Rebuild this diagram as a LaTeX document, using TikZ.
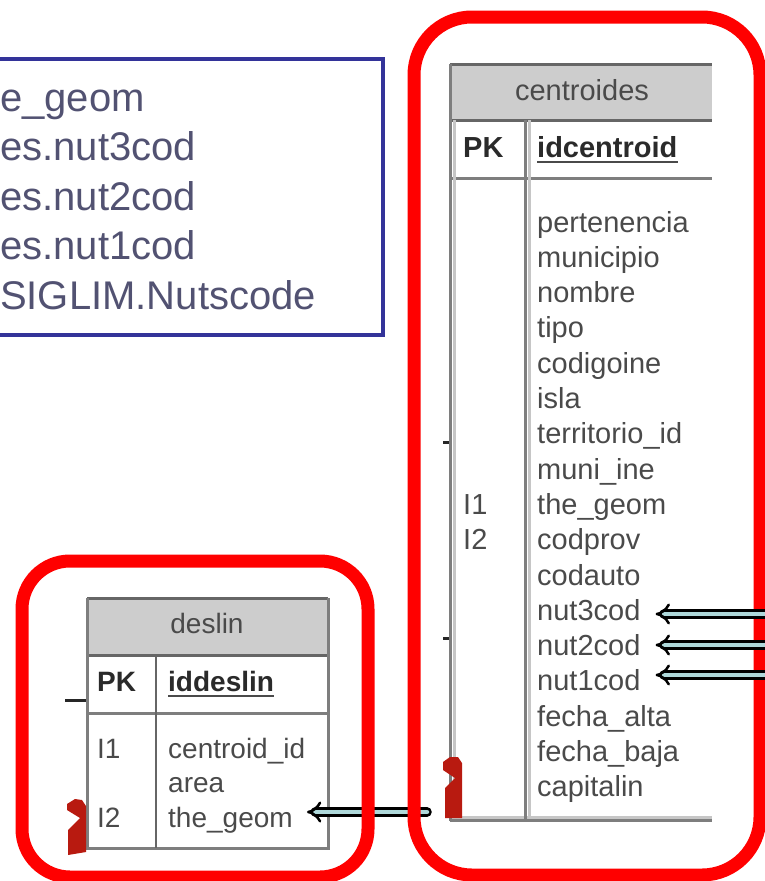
\documentclass[tikz,border=0pt]{standalone}
\usepackage{fontspec}
\setmainfont{Liberation Sans}
\usetikzlibrary{arrows.meta}
\definecolor{boxred}{HTML}{FF0000}
\definecolor{bluebox}{HTML}{333399}
\definecolor{bluetext}{HTML}{525272}
\definecolor{tabtext}{HTML}{4A4A4A}
\definecolor{pktext}{HTML}{2A2A2A}
\definecolor{tabline}{HTML}{7E7E7E}
\definecolor{tabdark}{HTML}{666666}
\definecolor{tablight}{HTML}{C6C6C6}
\definecolor{headfill}{HTML}{CDCDCD}
\definecolor{arrowfill}{HTML}{AED8DA}
\definecolor{crowred}{HTML}{B81A10}
\begin{document}
\begin{tikzpicture}[x=1pt,y=-1pt,
  redframe/.style={draw=boxred, line width=13pt, rounded corners=58pt},
  tline/.style={draw=tabline, line width=3pt},
  tdark/.style={draw=tabdark, line width=3pt},
  tlight/.style={draw=tablight, line width=3pt},
  fld/.style={anchor=base west, inner sep=0pt, text=tabtext, font=\fontsize{29}{30}\selectfont},
  dfld/.style={fld, font=\fontsize{28}{29}\selectfont},
  pkt/.style={anchor=base west, inner sep=0pt, text=pktext, font=\fontsize{29}{30}\selectfont\bfseries},
  dpkt/.style={pkt, font=\fontsize{28}{29}\selectfont\bfseries},
  headt/.style={anchor=base, inner sep=0pt, text=tabtext, font=\fontsize{29}{30}\selectfont},
  note/.style={anchor=base west, inner sep=0pt, text=bluetext, font=\fontsize{40}{48}\selectfont},
  fkarrow/.style={draw=black, line width=2.5pt, double=arrowfill, double distance=4.5pt, line cap=round, -{Implies[length=9pt,width=17pt]}},
  crow/.style={fill=crowred, draw=none},
  tickmark/.style={draw=black!85, line width=3pt},
  underl/.style={draw=tabtext, line width=2pt},
]
\useasboundingbox (0,0) rectangle (765,881);
\clip (0,0) rectangle (765,881);

% blue note box
\draw[bluebox, line width=4.5pt] (-20,59) rectangle (383,335);
\node[note] (b1) at (0,111) {e\_geom};
\node[note] (b2) at (0,160.5) {es.nut3cod};
\node[note] (b3) at (0,210) {es.nut2cod};
\node[note] (b4) at (0,259.5) {es.nut1cod};
\node[note] (b5) at (0,309) {SIGLIM.Nutscode};

% ---- centroides table ----
\fill[headfill] (450,64) rectangle (712,120);
\draw[tdark] (450,64) -- (712,64);
\draw[tdark] (450,120) -- (712,120);
\draw[tline] (450,178) -- (712,178);
\draw[tlight] (450,817) -- (712,817);
\draw[tline] (450,820) -- (712,820);
\draw[tlight] (454.5,120) -- (454.5,818);
\draw[tline] (450,64) -- (450,821);
\draw[tlight] (529,120) -- (529,818);
\draw[tline] (525.5,120) -- (525.5,821);

\node[headt] (chead) at (582,100) {centroides};
\node[pkt] (cpk) at (463,157) {PK};
\node[pkt] (cid) at (537,157) {idcentroid};
\draw[underl] ([yshift=-5pt]cid.base west) -- ([yshift=-5pt]cid.base east);

\foreach \t [count=\k from 0] in {pertenencia, municipio, nombre, tipo, codigoine, isla, territorio\_id, muni\_ine, the\_geom, codprov, codauto, nut3cod, nut2cod, nut1cod, fecha\_alta, fecha\_baja, capitalin}
  \node[fld] (c\k) at (537,{232+35.3*\k}) {\t};
\node[fld] (ci1) at (463,514.4) {I1};
\node[fld] (ci2) at (463,549.7) {I2};

% relationship remnants
\draw[tickmark] (443,442) -- (449,442);
\draw[tickmark] (443,638.5) -- (449,638.5);
\fill[crow] (443,762) -- (450,757) -- (458,757) -- (462,763) -- (462,818) -- (445,818) -- (445,788) -- (455,778) -- (443,770) -- cycle;

% ---- deslin table ----
\fill[headfill] (87,598) rectangle (328,655);
\draw[tdark] (87,598) -- (328,598);
\draw[tdark] (87,655) -- (328,655);
\draw[tline] (87,713) -- (328,713);
\draw[tline] (87,848) -- (328,848);
\draw[tline] (87,598) -- (87,849.5);
\draw[tline] (328,598) -- (328,849.5);
\draw[tdark, line width=2.5pt] (156,655) -- (156,848);

\node[headt, font=\fontsize{28}{29}\selectfont] (dhead) at (207,633) {deslin};
\node[dpkt] (dpk) at (97,691) {PK};
\node[dpkt] (did) at (168,691) {iddeslin};
\draw[underl] ([yshift=-4.5pt]did.base west) -- ([yshift=-4.5pt]did.base east);
\node[dfld] (d1) at (168,758) {centroid\_id};
\node[dfld] (d2) at (168,792.5) {area};
\node[dfld] (d3) at (168,827) {the\_geom};
\node[dfld] (di1) at (97,758) {I1};
\node[dfld] (di2) at (97,827) {I2};

\draw[tickmark] (65,700) -- (86,700);
\fill[crow] (67,804) -- (75,799) -- (82,800) -- (86,806) -- (86,852) -- (68,855) -- (68,830) -- (80,818) -- (67,810) -- cycle;

% ---- deslin arrow (under the red frames) ----
\coordinate (rd) at (427,812);
\draw[fkarrow] (rd) -- ([xshift=14pt]d3.east |- rd);

% red frames
\draw[redframe] (414,17) rectangle (760,875);
\draw[redframe, rounded corners=48pt] (22,561) rectangle (368,877);

% ---- nut arrows (over the red frame) ----
\coordinate (r3) at (780,614);
\coordinate (r2) at (780,645);
\coordinate (r1) at (780,675);
\draw[fkarrow] (r3) -- ([xshift=15pt]c11.east |- r3);
\draw[fkarrow] (r2) -- ([xshift=15pt]c12.east |- r2);
\draw[fkarrow] (r1) -- ([xshift=15pt]c13.east |- r1);
\end{tikzpicture}
\end{document}
